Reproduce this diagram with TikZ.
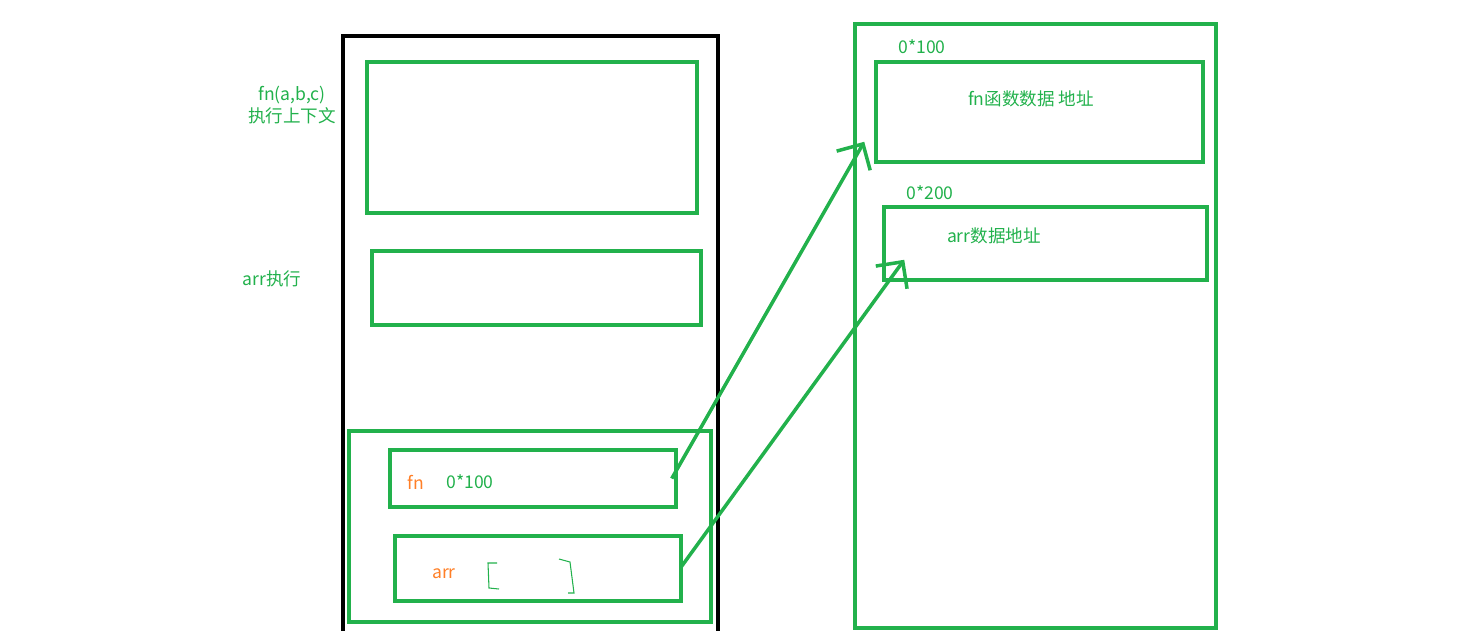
\documentclass[tikz,border=0pt]{standalone}
\usepackage{fontspec}
\newfontfamily\cjk{Noto Sans CJK SC}
\usetikzlibrary{fit,calc,arrows.meta}
\definecolor{pgreen}{HTML}{22B14C}
\definecolor{porange}{HTML}{FF7F27}
\begin{document}
\begin{tikzpicture}[x=0.02cm, y=-0.02cm,
	box/.style={draw=pgreen, line width=2pt, inner sep=0pt},
	lbl/.style={text=pgreen, font=\cjk\fontsize{10}{13}\selectfont, inner sep=0pt, align=center},
	var/.style={lbl, text=porange},
	ptr/.style={draw=pgreen, line width=2pt, -{Straight Barb[length=11pt,width=22pt]}}]
	\useasboundingbox (0,0) rectangle (1472,630);
	\draw[line width=2pt] (343,634) -- (343,36) -- (718,36) -- (718,634);
	\node[box, fit={(367,62) (697,213)}] (ctx) {};
	\node[box, fit={(372,251) (701,325)}] (arrctx) {};
	\node[box, fit={(349,431) (711,622)}] (vars) {};
	\node[box, fit={(390,450) (676,507)}] (fnbox) {};
	\node[box, fit={(395,536) (681,601)}] (arrbox) {};
	\node[box, fit={(855,24) (1216,628)}] (heap) {};
	\node[box, fit={(876,62) (1203,162)}] (fndata) {};
	\node[box, fit={(884,207) (1207,280)}] (arrdata) {};
	\node[lbl] (ctxlbl) at (292,105) {fn(a,b,c)\\执行上下文};
	\node[lbl] (arrlbl) at (272,279) {arr执行};
	\node[var] (fnname) at (416,482) {fn};
	\node[lbl] (fnval) at (470,482) {0*100};
	\node[var] (arrname) at (444,574) {arr};
	\node[lbl] (fnaddr) at (922,47) {0*100};
	\node[lbl] (fntxt) at (1031,99) {fn函数数据 地址};
	\node[lbl] (arraddr) at (930,193) {0*200};
	\node[lbl] (arrtxt) at (994,236) {arr数据地址};
	\draw[pgreen, line width=0.6pt] (497,563) -- (488,563) -- (489,588) -- (499,589)
		(559,559) -- (570,562) -- (574,593) -- (568,593);
	\draw[ptr] ($(fnbox.east)+(-6,0)$) -- ($(fndata.south west)+(-10,-22)$);
	\draw[ptr] ($(arrbox.east)+(-2,-1)$) -- ($(arrdata.south west)+(22,-22)$);
\end{tikzpicture}
\end{document}
